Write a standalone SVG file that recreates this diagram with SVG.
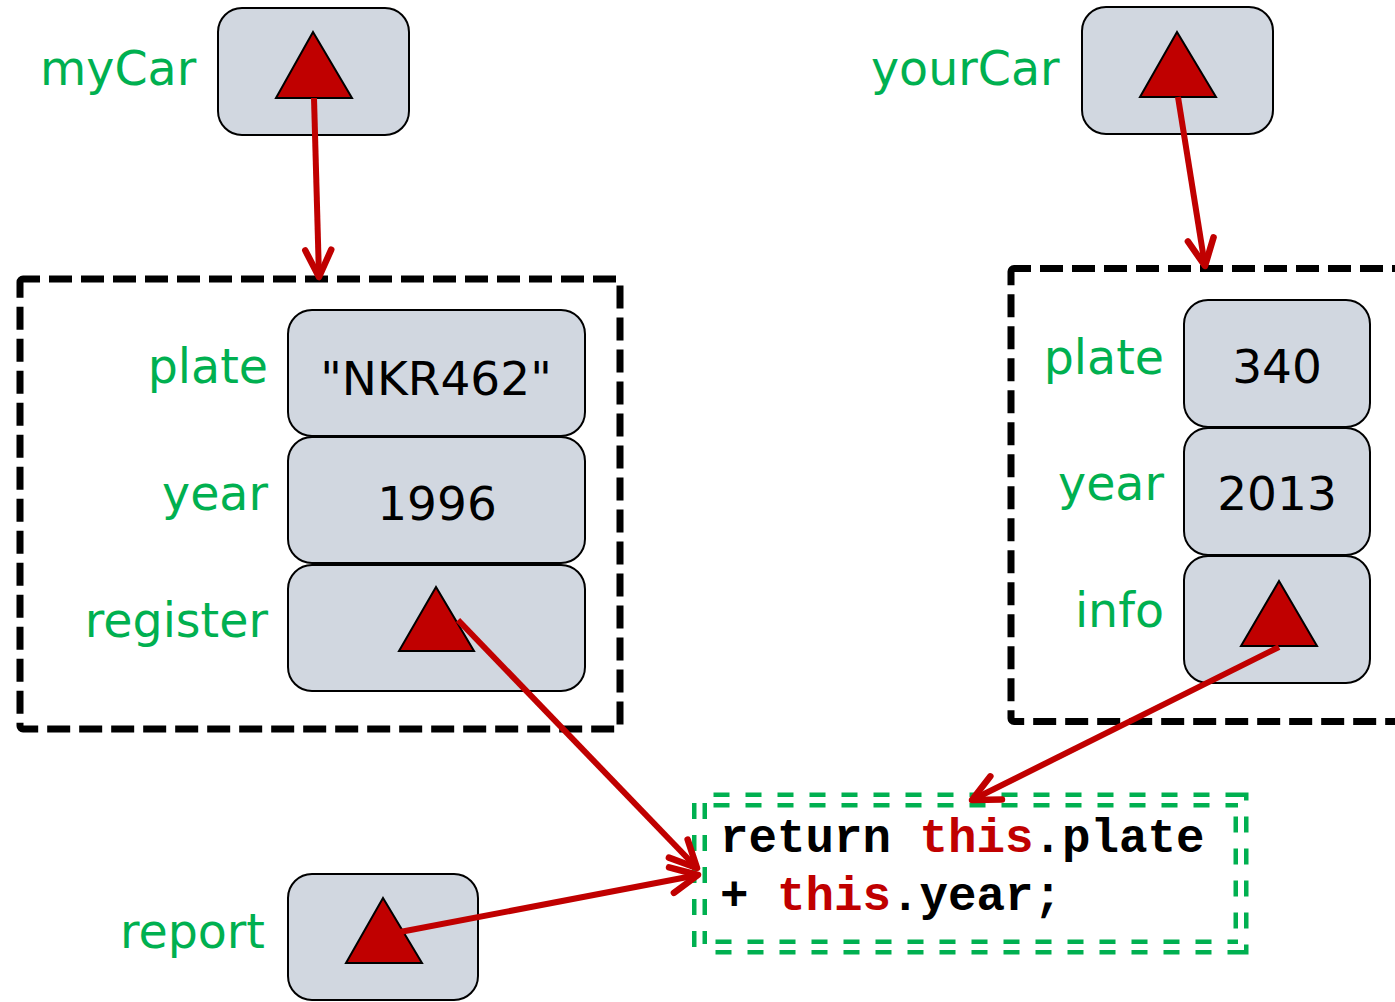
<svg xmlns="http://www.w3.org/2000/svg" width="1395" height="1002" viewBox="0 0 1395 1002">
<defs>
<style>
.lbl{font-family:"DejaVu Sans",Verdana,sans-serif;font-size:47.5px;fill:#00B050}
.val{font-family:"DejaVu Sans",Verdana,sans-serif;font-size:47px;fill:#000;text-anchor:middle}
.cell{fill:#D1D7E0;stroke:#000;stroke-width:2}
.tri{fill:#C00000;stroke:#000;stroke-width:2;stroke-linejoin:miter}
.obj{fill:none;stroke:#000;stroke-width:7;stroke-dasharray:23 9}
.conn{fill:none;stroke:#C00000;stroke-width:6;marker-end:url(#ah)}
.code{font-family:"Liberation Mono","Courier New",monospace;font-weight:bold;font-size:47.5px;fill:#000}
.kw{fill:#C00000}
</style>
<marker id="ah" markerUnits="userSpaceOnUse" viewBox="-32 -18 36 36" refX="0" refY="0" markerWidth="36" markerHeight="36" orient="auto">
<path d="M-27,-13 L0,0 L-27,13" fill="none" stroke="#C00000" stroke-width="6.5" stroke-linecap="round" stroke-linejoin="round"/>
</marker>
</defs>
<rect width="1395" height="1002" fill="#fff"/>

<g id="myCar">
<text class="lbl" x="40" y="85">myCar</text>
<rect class="cell" x="218" y="8" width="191" height="127" rx="24"/>
<polygon class="tri" points="313,32 276,98 352,98"/>
</g>

<g id="yourCar">
<text class="lbl" x="871" y="85">yourCar</text>
<rect class="cell" x="1082" y="7" width="191" height="127" rx="24"/>
<polygon class="tri" points="1177,32 1140,97 1216,97"/>
</g>

<g id="objMyCar">
<rect class="obj" x="20" y="279" width="600" height="450" rx="3" stroke-dashoffset="6"/>
<text class="lbl" x="268" y="383" text-anchor="end">plate</text>
<text class="lbl" x="268" y="510" text-anchor="end">year</text>
<text class="lbl" x="268" y="637" text-anchor="end">register</text>
<rect class="cell" x="288" y="310" width="297" height="126" rx="24"/>
<rect class="cell" x="288" y="437" width="297" height="126" rx="24"/>
<rect class="cell" x="288" y="565" width="297" height="126" rx="24"/>
<text class="val" x="436" y="395">"NKR462"</text>
<text class="val" x="437" y="520">1996</text>
<polygon class="tri" points="436,587 399,651 474,651"/>
</g>

<g id="objYourCar">
<rect class="obj" x="1011" y="268.5" width="500" height="453" rx="3" stroke-dashoffset="6"/>
<text class="lbl" x="1164" y="374" text-anchor="end">plate</text>
<text class="lbl" x="1164" y="500" text-anchor="end">year</text>
<text class="lbl" x="1164" y="627" text-anchor="end">info</text>
<rect class="cell" x="1184" y="300" width="186" height="127" rx="24"/>
<rect class="cell" x="1184" y="428" width="186" height="127" rx="24"/>
<rect class="cell" x="1184" y="556" width="186" height="127" rx="24"/>
<text class="val" x="1277" y="383">340</text>
<text class="val" x="1277" y="510">2013</text>
<polygon class="tri" points="1279,581 1241,646 1317,646"/>
</g>

<g id="report">
<text class="lbl" x="265" y="948" text-anchor="end">report</text>
<rect class="cell" x="288" y="874" width="190" height="126" rx="24"/>
<polygon class="tri" points="383,898 346,963 422,963"/>
</g>

<g id="method">
<rect x="699.5" y="800" width="541.5" height="147" fill="none" stroke="#00B050" stroke-width="15" stroke-dasharray="16 16" stroke-dashoffset="18"/>
<rect x="699.5" y="800" width="541.5" height="147" fill="none" stroke="#fff" stroke-width="6"/>
<text class="code" x="720" y="852">return <tspan class="kw">this</tspan>.plate</text>
<text class="code" x="720" y="910">+ <tspan class="kw">this</tspan>.year;</text>
</g>

<g id="connectors">
<line class="conn" x1="314" y1="98" x2="319" y2="277"/>
<line class="conn" x1="1178" y1="97" x2="1205" y2="266"/>
<line class="conn" x1="458" y1="620" x2="697" y2="868"/>
<line class="conn" x1="400" y1="932" x2="698" y2="875"/>
<line class="conn" x1="1279" y1="647" x2="972" y2="800"/>
</g>
</svg>
